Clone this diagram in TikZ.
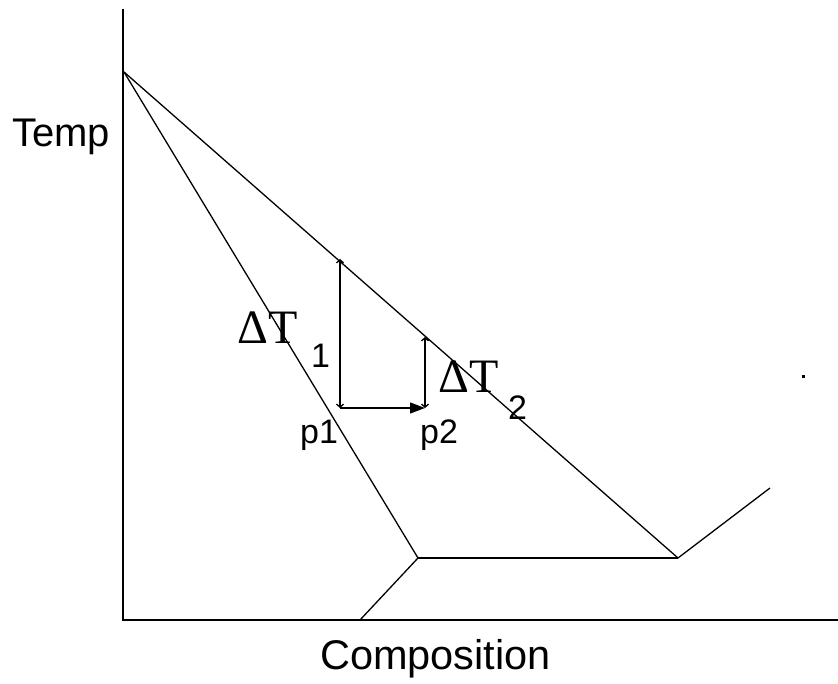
\documentclass[tikz,border=0pt]{standalone}
\usepackage{fontspec}
\setmainfont{Liberation Sans}
\newfontfamily\deltafont{Liberation Serif}
\usetikzlibrary{arrows.meta}
\tikzset{
    axisline/.style={line width=2pt},
    phaseline/.style={line width=1.3pt},
    riser/.style={line width=1.3pt, {Straight Barb[length=3pt,width=7pt]}-{Straight Barb[length=3pt,width=7pt]}},
    mover/.style={line width=1.3pt, -{Triangle[length=15pt,width=11pt]}},
    lbl/.style={anchor=base west, inner sep=0pt, font=\fontsize{34}{40}\selectfont},
    dlbl/.style={anchor=base west, inner sep=0pt, font=\deltafont\fontsize{48}{56}\selectfont},
}

\begin{document}
\begin{tikzpicture}[x=1pt, y=-1pt]
    \useasboundingbox (0,0) rectangle (838,684);

    % axes
    \coordinate (ytop) at (123,9);
    \coordinate (origin) at (123,620);
    \coordinate (xend) at (838,620);
    \draw[axisline] (ytop) -- (origin) -- (xend);

    % phase boundaries
    \coordinate (melt) at (124,72);
    \coordinate (eutA) at (418,558);
    \coordinate (eutB) at (678,558);
    \coordinate (foot) at (360,620);
    \coordinate (rise) at (770,488);
    \draw[phaseline] (melt) -- (eutA);
    \draw[phaseline] (melt) -- (eutB);
    \draw[axisline] (eutA) -- (eutB);
    \draw[phaseline] (eutB) -- (rise);
    \draw[phaseline] (eutA) -- (foot);

    % steps
    \coordinate (p1) at (340,408);
    \coordinate (top1) at (340,259);
    \coordinate (p2) at (425,408);
    \coordinate (top2) at (425,337);
    \draw[riser] (p1) -- (top1);
    \draw[mover] (p1) -- (p2);
    \draw[riser] (p2) -- (top2);

    \fill (802,375) rectangle ++(3,3);

    % labels
    \node[lbl, font=\fontsize{40}{46}\selectfont] (temp) at (12,147) {Temp};
    \node[lbl, font=\fontsize{41.5}{48}\selectfont] (comp) at (320,669) {Composition};
    \node[dlbl] (dt1) at (237,344) {ΔT};
    \node[lbl] (sub1) at (311,368) {1};
    \node[dlbl] (dt2) at (438,393) {ΔT};
    \node[lbl] (sub2) at (508,420) {2};
    \node[lbl] (lp1) at (300,443) {p1};
    \node[lbl] (lp2) at (420,443) {p2};
\end{tikzpicture}
\end{document}
